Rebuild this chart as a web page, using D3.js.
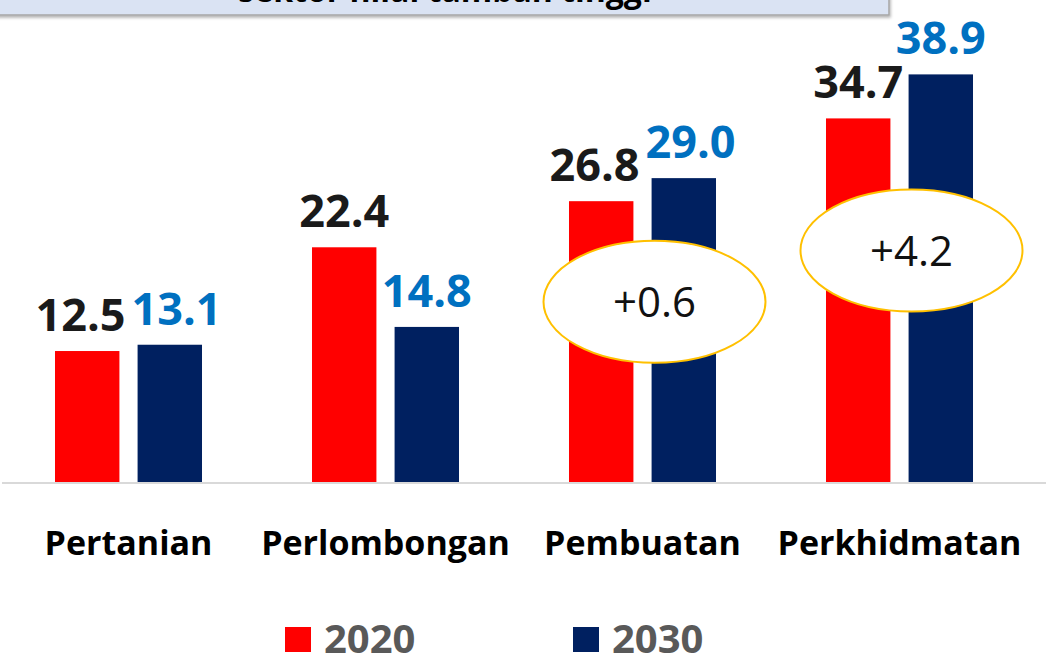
<!DOCTYPE html>
<html>
<head>
<meta charset="utf-8">
<script src="https://cdn.jsdelivr.net/npm/d3@7"></script>
<style>
  body { margin: 0; background: #fff; }
  svg { display: block; font-family: "Open Sans", "Noto Sans", sans-serif; }
</style>
</head>
<body>
<div id="chart"></div>
<script>
"use strict";

// data
var categories = ["Pertanian", "Perlombongan", "Pembuatan", "Perkhidmatan"];
var years = ["2020", "2030"];
var values2020 = [12.5, 22.4, 26.8, 34.7];
var values2030 = [13.1, 14.8, 29.0, 38.9];
var callouts = [
    { category: "Pembuatan", text: "+0.6", level: 17.2 },
    { category: "Perkhidmatan", text: "+4.2", level: 22.1 }
];
var titleText = "sektor nilai tambah tinggi";

var width = 1046, height = 659;
var baseY = 482;
var colors = { "2020": "#ff0000", "2030": "#002060" };
var labelColors = { "2020": "#1a1a1a", "2030": "#0070c0" };

var svg = d3.select("#chart").append("svg")
    .attr("width", width).attr("height", height);

var x0 = d3.scaleBand().domain(categories).range([0, 1028])
    .paddingInner(0.428).paddingOuter(0.214);
var x1 = d3.scaleBand().domain(years).range([0, x0.bandwidth()])
    .paddingInner(0.22);
var y = d3.scaleLinear().domain([0, 46]).range([baseY, 0]);

var rows = categories.map(function (c, i) {
    return { category: c, values: [
        { year: "2020", value: values2020[i] },
        { year: "2030", value: values2030[i] }
    ] };
});

// title box, mostly cut off at the top
var defs = svg.append("defs");
var f = defs.append("filter").attr("id", "shadow").attr("x", "-5%").attr("y", "-50%")
    .attr("width", "110%").attr("height", "200%");
f.append("feDropShadow").attr("dx", 1).attr("dy", 2).attr("stdDeviation", 1.5)
    .attr("flood-color", "#000").attr("flood-opacity", 0.3);

svg.append("rect").attr("x", -5).attr("y", -40).attr("width", 894).attr("height", 55)
    .attr("fill", "#dae3f3").attr("stroke", "#a6a6a6").attr("stroke-width", 1.5)
    .attr("filter", "url(#shadow)");
svg.append("text").attr("x", 445).attr("y", 2).attr("text-anchor", "middle")
    .attr("font-size", 32).attr("font-weight", 700).attr("fill", "#000")
    .text(titleText);

// baseline
svg.append("line").attr("x1", 2).attr("x2", width).attr("y1", baseY + 1).attr("y2", baseY + 1)
    .attr("stroke", "#d9d9d9").attr("stroke-width", 2);

var groups = svg.append("g").selectAll("g").data(rows).join("g")
    .attr("transform", function (d) { return "translate(" + x0(d.category) + ",0)"; });

groups.selectAll("rect").data(function (d) { return d.values; }).join("rect")
    .attr("x", function (d) { return x1(d.year); })
    .attr("y", function (d) { return y(d.value); })
    .attr("width", x1.bandwidth())
    .attr("height", function (d) { return baseY - y(d.value); })
    .attr("fill", function (d) { return colors[d.year]; });

var labels = groups.selectAll("text.val").data(function (d) { return d.values; }).join("text")
    .attr("class", "val")
    .attr("x", function (d) { return x1(d.year) + x1.bandwidth() / 2; })
    .attr("y", function (d) { return y(d.value) - 20; })
    .attr("text-anchor", "middle")
    .attr("font-size", 45).attr("font-weight", 700)
    .attr("fill", function (d) { return labelColors[d.year]; })
    .text(function (d) { return d.value.toFixed(1); });

// push apart labels that collide inside a group
groups.each(function () {
    var t = d3.select(this).selectAll("text.val").nodes();
    var a = t[0], b = t[1];
    var ax = +a.getAttribute("x"), bx = +b.getAttribute("x");
    var ay = +a.getAttribute("y"), by = +b.getAttribute("y");
    if (Math.abs(ay - by) < 34) {
        var overlap = (ax + a.getComputedTextLength() / 2) - (bx - b.getComputedTextLength() / 2) + 6;
        if (overlap > 0) {
            a.setAttribute("x", ax - overlap / 2);
            b.setAttribute("x", bx + overlap / 2);
        }
    }
});

// callout ellipses
var co = svg.append("g").selectAll("g").data(callouts).join("g")
    .attr("transform", function (d) {
        return "translate(" + (x0(d.category) + x0.bandwidth() / 2 + 12) + "," + y(d.level) + ")";
    });
co.append("ellipse").attr("rx", 111).attr("ry", 61)
    .attr("fill", "#fff").attr("stroke", "#ffc000").attr("stroke-width", 2);
co.append("text").attr("text-anchor", "middle").attr("dy", "0.36em")
    .attr("font-size", 42).attr("fill", "#111").text(function (d) { return d.text; });

// category axis labels
svg.append("g").selectAll("text").data(categories).join("text")
    .attr("x", function (d) { return x0(d) + x0.bandwidth() / 2; })
    .attr("y", 555).attr("text-anchor", "middle")
    .attr("font-size", 34).attr("font-weight", 700).attr("fill", "#000")
    .text(function (d) { return d; });

// legend
var legendX = [285, 573];
var lg = svg.append("g").selectAll("g").data(years).join("g")
    .attr("transform", function (d, i) { return "translate(" + legendX[i] + ",627)"; });
lg.append("rect").attr("width", 26).attr("height", 25)
    .attr("fill", function (d) { return colors[d]; });
lg.append("text").attr("x", 39).attr("y", 26)
    .attr("font-size", 40).attr("font-weight", 700).attr("fill", "#595959")
    .text(function (d) { return d; });
</script>
</body>
</html>
